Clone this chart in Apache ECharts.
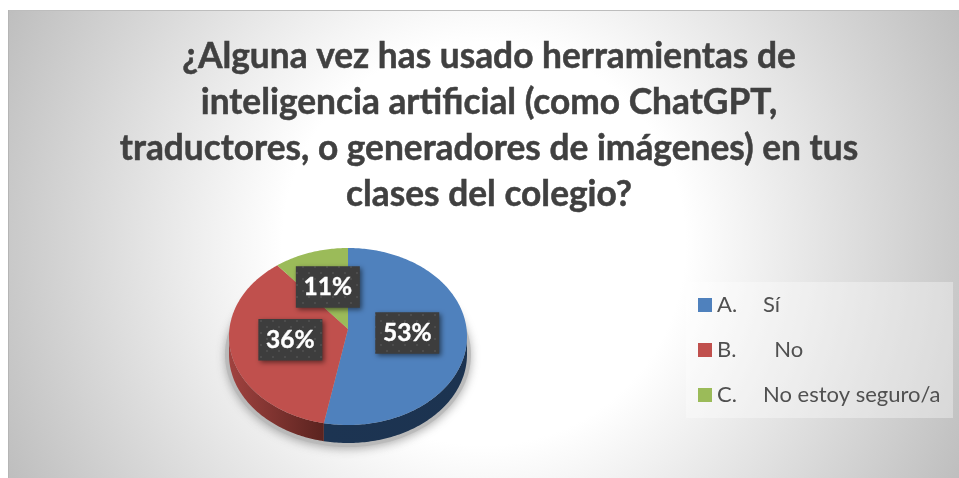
<!DOCTYPE html>
<html><head><meta charset="utf-8">
<style>html,body{margin:0;padding:0;background:#fff}#c{width:959px;height:478px}</style>
<script src="https://cdn.jsdelivr.net/npm/echarts@6/dist/echarts.min.js"></script>
</head><body><div id="c"></div>
<script>
const titleLines = ['¿Alguna vez has usado herramientas de','inteligencia artificial (como ChatGPT,','traductores, o generadores de imágenes) en tus','clases del colegio?'];
const letters = ['A.','B.','C.'];
const answers = ['Sí','  No','No estoy seguro/a'];
const values = [53, 36, 11];
const topColors = ['#4f81bd','#c0504d','#9bbb59'];
const rimColors = [['#1c3452','#1c3350'],['#a0423f','#5a231f'],['#6f8a3e','#5c7332']];

const total = values.reduce((a,b)=>a+b,0);
const cx=348, cy=336.5, rx=119, ry=88.5, apexY=329, depth=18;

const patt=document.createElement('canvas');patt.width=patt.height=12;
(function(){const g=patt.getContext('2d');g.fillStyle='#3d3d3d';g.fillRect(0,0,12,12);
 g.fillStyle='#4c4c4c';g.fillRect(2,2,2,2);g.fillRect(8,8,2,2);})();

// Perspective: the ray at angle a from the apex meets the outline ellipse
function pt(a){
  const dx=Math.sin(a), dy=-Math.cos(a), off=(apexY-cy)/ry;
  const b=dy*off, t=-b+Math.sqrt(b*b-(off*off-1));
  return [cx+rx*dx*t, cy+ry*(off+dy*t)];
}
function renderSlice(idx){
  return function(params, api){
    const v=api.value(0);
    let before=0; for(let k=0;k<idx;k++) before+=values[k];
    const a0=before/total*2*Math.PI, a1=(before+v)/total*2*Math.PI;
    const n=Math.max(8,Math.ceil((a1-a0)*60));
    const top=[[cx,apexY]], rimTop=[];
    for(let i=0;i<=n;i++){
      const a=a0+(a1-a0)*i/n; const p=pt(a); top.push(p);
      if(p[1]>=cy) rimTop.push(p);
    }
    const children=[];
    if(rimTop.length>1){
      const rim=rimTop.concat(rimTop.slice().reverse().map(p=>[p[0],p[1]+depth]));
      const xs=rimTop.map(p=>p[0]);
      children.push({type:'polygon',z2:1,shape:{points:rim},style:{fill:{type:'linear',x:Math.min(...xs),y:0,x2:Math.max(...xs),y2:0,global:true,
        colorStops:[{offset:0,color:rimColors[idx][0]},{offset:1,color:rimColors[idx][1]}]}}});
    }
    children.push({type:'polygon',z2:2,shape:{points:top},style:{fill:topColors[idx]}});
    const mid=(a0+a1)/2, lx=cx+0.5*rx*Math.sin(mid), ly=apexY-0.5*ry*Math.cos(mid);
    children.push({type:'rect',z2:10,shape:{x:lx-32,y:ly-21,width:64,height:41.5},
      style:{fill:{image:patt,repeat:'repeat'},shadowBlur:5,shadowOffsetX:2,shadowOffsetY:2,shadowColor:'rgba(0,0,0,.5)'}});
    children.push({type:'text',z2:11,style:{text:v+'%',x:lx,y:ly,align:'center',verticalAlign:'middle',
      fill:'#fff',font:'bold 24.5px Lato',stroke:'#fff',lineWidth:0.4}});
    return {type:'group',children};
  };
}

const chart=echarts.init(document.getElementById('c'),null,{renderer:'canvas'});
chart.setOption({
  animation:false,
  backgroundColor:'#fff',
  title:{text:titleLines.join('\n'),left:489,top:34,padding:0,textAlign:'center',
    textStyle:{fontFamily:'Lato',fontWeight:'bold',fontSize:35.3,lineHeight:46,color:'#404040',textBorderColor:'#404040',textBorderWidth:0.5}},
  graphic:[
    {type:'rect',z:-10,shape:{x:8,y:10,width:951,height:468},
     style:{fill:{type:'radial',x:484,y:244,r:530,global:true,colorStops:[{offset:0,color:'#fff'},{offset:.38,color:'#fff'},{offset:1,color:'#bebebe'}]},stroke:null}},
    {type:'rect',z:-9,shape:{x:8,y:10,width:951,height:1},style:{fill:'#bdbdbd'}},
    {type:'rect',z:-9,shape:{x:8,y:10,width:1,height:468},style:{fill:'#b5b5b5'}},
    {type:'ellipse',z:-5,shape:{cx:cx,cy:cy+18,rx:rx+4,ry:ry+4},
     style:{fill:'rgba(185,185,185,.85)',shadowBlur:10,shadowColor:'rgba(120,120,120,.7)',shadowOffsetY:2}}
  ],
  legend:{
    orient:'vertical',left:686,top:282,
    padding:[12,12,12,12],backgroundColor:'rgba(255,255,255,.35)',
    icon:'rect',itemWidth:14,itemHeight:14,itemGap:23,
    data:letters.map((l,i)=>l+'|'+answers[i]),
    formatter:n=>{const p=n.split('|');return '{a|'+p[0]+'}{b|'+p[1]+'}';},
    textStyle:{color:'#505050',fontFamily:'Lato',fontSize:22,height:22,lineHeight:22,
      rich:{a:{width:46,height:22,lineHeight:22,fontFamily:'Lato',fontSize:22,color:'#505050'},b:{width:178,height:22,lineHeight:22,fontFamily:'Lato',fontSize:22,color:'#505050'}}}
  },
  series:values.map((v,i)=>({
    type:'custom',coordinateSystem:'none',name:letters[i]+'|'+answers[i],
    itemStyle:{color:topColors[i]},silent:true,
    renderItem:renderSlice(i),data:[[v]]
  }))
});
</script></body></html>
